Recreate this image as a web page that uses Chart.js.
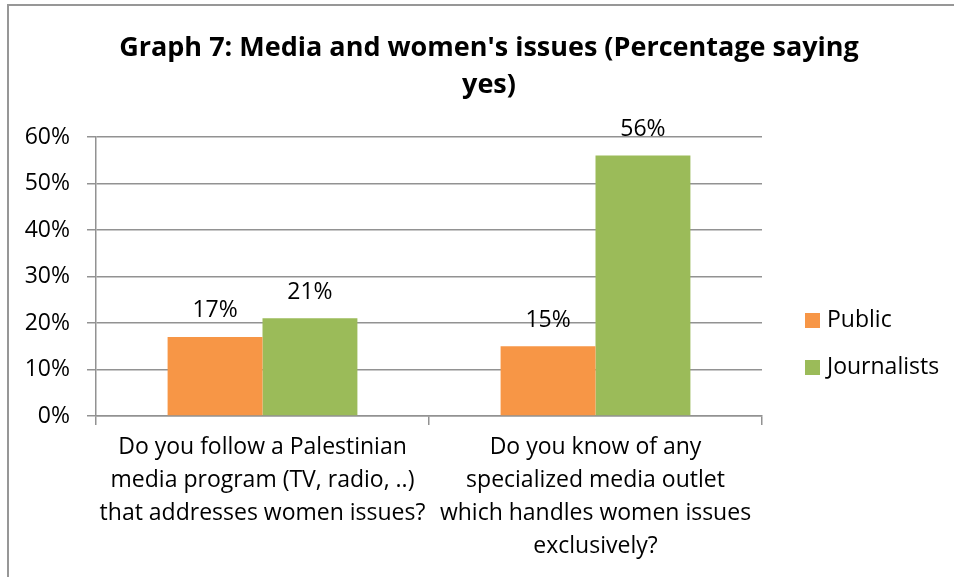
<!DOCTYPE html>
<html>
<head>
<meta charset="utf-8">
<title>Graph 7: Media and women's issues</title>
<script src="https://cdn.jsdelivr.net/npm/chart.js@4.4.1/dist/chart.umd.min.js"></script>
<style>
  html, body { margin: 0; padding: 0; background: #fff; }
  #wrap { width: 954px; height: 577px; position: relative; }
</style>
</head>
<body>
<div id="wrap"><canvas id="graph7"></canvas></div>
<script>
// Percentage saying yes, per question
const titleLines = ["Graph 7: Media and women's issues (Percentage saying", 'yes)'];
const questions = [
    ['Do you follow a Palestinian', 'media program (TV, radio, ..)', 'that addresses women issues?'],
    ['Do you know of any', 'specialized media outlet', 'which handles women issues', 'exclusively?']
];
const seriesNames = ['Public', 'Journalists'];
const publicValues = [17, 15];
const journalistValues = [21, 56];
const seriesColors = ['#F79646', '#9BBB59'];
const yTicks = [0, 10, 20, 30, 40, 50, 60];

const FONT = "'Open Sans', 'Liberation Sans', sans-serif";
const TEXT_SIZE = 23;
const GRID = '#929292';

// Frame around the whole chart (only top and left edges are visible)
const framePlugin = {
    id: 'frame',
    beforeDraw(chart) {
        const ctx = chart.ctx;
        ctx.save();
        ctx.fillStyle = '#fff';
        ctx.fillRect(0, 0, chart.width, chart.height);
        ctx.strokeStyle = '#979797';
        ctx.lineWidth = 2;
        ctx.strokeRect(8, 5, chart.width + 10, chart.height + 10);
        ctx.restore();
    }
};

// Two-line bold heading
const headingPlugin = {
    id: 'heading',
    afterDraw(chart) {
        const ctx = chart.ctx;
        ctx.save();
        ctx.fillStyle = '#000';
        ctx.font = 'bold 27px ' + FONT;
        ctx.textAlign = 'center';
        ctx.textBaseline = 'middle';
        titleLines.forEach((line, i) => ctx.fillText(line, 489, 48 + i * 37));
        ctx.restore();
    }
};

// Value labels above each bar
const valueLabels = {
    id: 'valueLabels',
    afterDatasetsDraw(chart) {
        const ctx = chart.ctx;
        ctx.save();
        ctx.fillStyle = '#000';
        ctx.font = TEXT_SIZE + 'px ' + FONT;
        ctx.textAlign = 'center';
        ctx.textBaseline = 'middle';
        chart.data.datasets.forEach((ds, di) => {
            chart.getDatasetMeta(di).data.forEach((bar, i) => {
                ctx.fillText(ds.data[i] + '%', bar.x, bar.y - 26);
            });
        });
        ctx.restore();
    }
};

// Legend on the right side
const sideLegend = {
    id: 'sideLegend',
    afterDraw(chart) {
        const ctx = chart.ctx;
        ctx.save();
        ctx.font = TEXT_SIZE + 'px ' + FONT;
        ctx.textBaseline = 'middle';
        chart.data.datasets.forEach((ds, i) => {
            const y = 320 + i * 47;
            ctx.fillStyle = ds.backgroundColor;
            ctx.fillRect(805, y - 7, 15, 15);
            ctx.fillStyle = '#000';
            ctx.fillText(ds.label, 827, y);
        });
        ctx.restore();
    }
};

const ctx = document.getElementById('graph7').getContext('2d');
const chart = new Chart(ctx, {
    type: 'bar',
    data: {
        labels: questions,
        datasets: [
            { label: seriesNames[0], data: publicValues, backgroundColor: seriesColors[0] },
            { label: seriesNames[1], data: journalistValues, backgroundColor: seriesColors[1] }
        ]
    },
    options: {
        responsive: true,
        maintainAspectRatio: false,
        animation: false,
        events: [],
        layout: {
            padding: { left: 24, right: 192, top: 137, bottom: 0 }
        },
        datasets: {
            bar: { categoryPercentage: 0.57, barPercentage: 1.0 }
        },
        scales: {
            x: {
                grid: {
                    display: true,
                    drawOnChartArea: false,
                    drawTicks: true,
                    tickLength: 9,
                    color: GRID,
                    lineWidth: 1.5
                },
                border: { display: true, color: GRID, width: 1.5 },
                ticks: {
                    color: '#000',
                    font: { family: FONT, size: TEXT_SIZE, lineHeight: 33 / TEXT_SIZE },
                    padding: 6,
                    maxRotation: 0,
                    autoSkip: false
                },
                afterFit(scale) { scale.height = 161; }
            },
            y: {
                min: yTicks[0],
                max: yTicks[yTicks.length - 1],
                afterBuildTicks(scale) {
                    scale.ticks = yTicks.map(v => ({ value: v }));
                },
                grid: {
                    color: GRID,
                    lineWidth: 1.5,
                    drawTicks: true,
                    tickLength: 9
                },
                border: { display: true, color: GRID, width: 1.5 },
                ticks: {
                    color: '#000',
                    font: { family: FONT, size: TEXT_SIZE },
                    padding: 17,
                    callback: v => v + '%'
                },
                afterFit(scale) { scale.width = 72; }
            }
        },
        plugins: {
            legend: { display: false },
            title: { display: false },
            tooltip: { enabled: false }
        }
    },
    plugins: [framePlugin, headingPlugin, valueLabels, sideLegend]
});
</script>
</body>
</html>
